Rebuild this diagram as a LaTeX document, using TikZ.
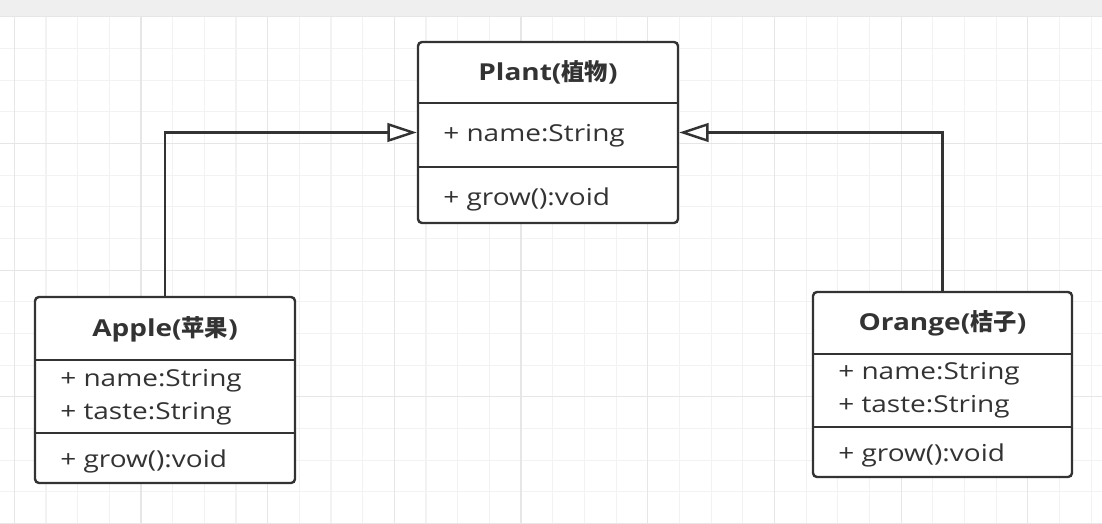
\documentclass[tikz,border=0pt]{standalone}
\usepackage{fontspec}
\setmainfont{Open Sans}[FakeStretch=1.2]
\newfontfamily\cjk{Noto Sans CJK SC}
\usetikzlibrary{arrows.meta}
\definecolor{umlline}{HTML}{333333}
\definecolor{gridminor}{HTML}{F2F2F2}
\definecolor{gridmajor}{HTML}{E6E6E6}
\definecolor{topband}{HTML}{EFEFEF}

\begin{document}
\begin{tikzpicture}[x=0.75pt,y=-0.75pt,
    classbox/.style={draw=umlline, line width=1.8pt, rounded corners=3pt, fill=white},
    sepline/.style={draw=umlline, line width=1.8pt},
    title/.style={font=\fontsize{17.5}{21}\selectfont\bfseries, text=umlline},
    member/.style={font=\fontsize{17.5}{24.75}\selectfont, text=umlline, anchor=west, align=left, inner sep=0pt},
    inherit/.style={draw=umlline, line width=1.8pt, -{Triangle[open, length=22pt, width=14pt, fill=white]}}]

    \useasboundingbox (0,0) rectangle (1102,524);

    % ================= BACKGROUND =================
    \fill[white] (0,0) rectangle (1102,524);
    \foreach \i in {0,...,34} {
        \draw[gridminor, line width=0.8pt] ({14.3+31.67*\i},16) -- ({14.3+31.67*\i},524);
    }
    \foreach \j in {0,...,16} {
        \draw[gridminor, line width=0.8pt] (0,{16.7+31.67*\j}) -- (1102,{16.7+31.67*\j});
    }
    \foreach \i in {0,...,8} {
        \draw[gridmajor, line width=0.8pt] ({14.3+126.68*\i},16) -- ({14.3+126.68*\i},524);
    }
    \foreach \j in {0,...,4} {
        \draw[gridmajor, line width=0.8pt] (0,{16.7+126.68*\j}) -- (1102,{16.7+126.68*\j});
    }
    \fill[topband] (0,0) rectangle (1102,16);

    % ================= CLASSES =================
    % Plant
    \node[classbox, minimum width=195pt, minimum height=135.75pt] (plant) at (548,132.5) {};
    \draw[sepline] (plant.west |- 0,103) -- (plant.east |- 0,103);
    \draw[sepline] (plant.west |- 0,167) -- (plant.east |- 0,167);
    \node[title]  (plant-name)  at (548,72.5) {Plant({\cjk 植物})};
    \node[member] (plant-attr)  at (443,136) {+ name:String};
    \node[member] (plant-op)    at (443,199) {+ grow():void};

    % Apple
    \node[classbox, minimum width=195pt, minimum height=139.5pt] (apple) at (165,390) {};
    \draw[sepline] (apple.west |- 0,360) -- (apple.east |- 0,360);
    \draw[sepline] (apple.west |- 0,433) -- (apple.east |- 0,433);
    \node[title]  (apple-name)  at (165,329) {Apple({\cjk 苹果})};
    \node[member] (apple-attr)  at (60,397) {+ name:String\\+ taste:String};
    \node[member] (apple-op)    at (60,461) {+ grow():void};

    % Orange
    \node[classbox, minimum width=194.25pt, minimum height=138.75pt] (orange) at (942.5,384.5) {};
    \draw[sepline] (orange.west |- 0,354) -- (orange.east |- 0,354);
    \draw[sepline] (orange.west |- 0,427) -- (orange.east |- 0,427);
    \node[title]  (orange-name) at (942.5,323) {Orange({\cjk 桔子})};
    \node[member] (orange-attr) at (838,390.5) {+ name:String\\+ taste:String};
    \node[member] (orange-op)   at (838,455) {+ grow():void};

    % ================= INHERITANCE =================
    \draw[inherit] (apple.north) |- (plant.west);
    \draw[inherit] (orange.north) |- (plant.east);

\end{tikzpicture}
\end{document}
